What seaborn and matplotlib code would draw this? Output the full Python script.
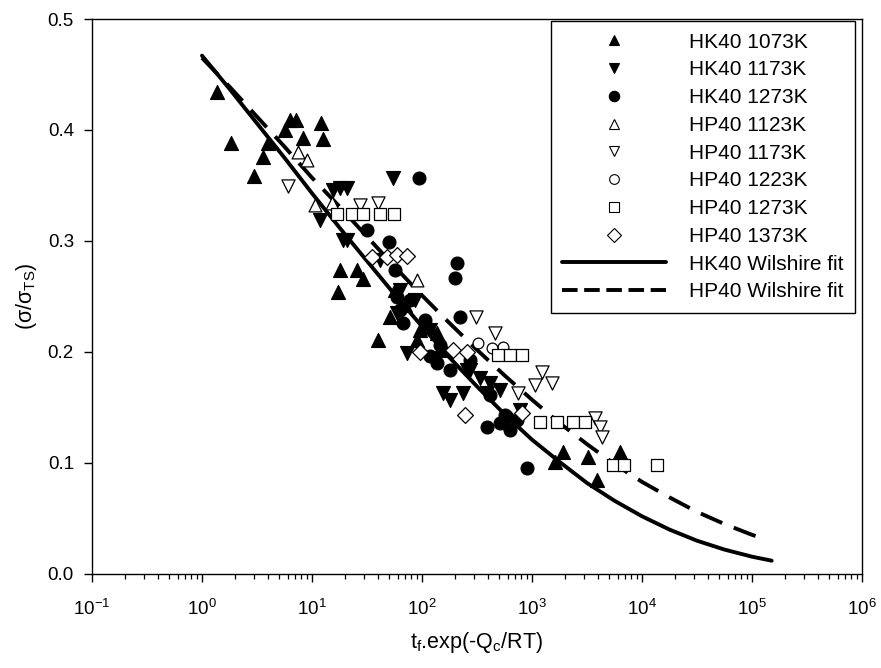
import numpy as np
import pandas as pd
import matplotlib
matplotlib.use("Agg")
import matplotlib.pyplot as plt
import seaborn as sns
from matplotlib.lines import Line2D
from matplotlib.ticker import FixedLocator, LogLocator, NullFormatter, FuncFormatter

# ---------------- data ----------------
hk1073_x = [1.37, 1.84, 2.97, 3.59, 3.98, 5.69, 6.31, 7.16, 8.28, 12.1, 12.6, 18.0, 17.2, 25.6, 29.1,
            39.8, 1620, 1910, 3230, 6310, 3900, 70, 96, 162, 57, 51, 117, 137, 90]
hk1073_y = [0.434, 0.388, 0.359, 0.376, 0.388, 0.400, 0.409, 0.409, 0.393, 0.406, 0.392, 0.274, 0.254, 0.274, 0.266,
            0.211, 0.101, 0.110, 0.105, 0.110, 0.085, 0.242, 0.220, 0.202, 0.256, 0.2315, 0.2225, 0.217, 0.211]

hk1173_x = [54.5, 15.5, 18.0, 20.8, 11.8, 19.1, 155, 180, 41.5, 63, 86, 118, 273, 512, 778, 569,
            20.8, 59, 73, 137, 257, 336, 415, 236, 389]
hk1173_y = [0.357, 0.346, 0.348, 0.348, 0.319, 0.301, 0.163, 0.157, 0.283, 0.256, 0.247, 0.220, 0.184, 0.166, 0.148, 0.134,
            0.301, 0.235, 0.199, 0.195, 0.184, 0.177, 0.172, 0.163, 0.163]

hk1273_x = [94, 31.6, 50, 208, 200, 221, 390, 902, 57, 78, 106, 146, 273, 415, 569,
            59, 63, 67, 118, 137, 180, 593, 731, 512, 631]
hk1273_y = [0.357, 0.310, 0.299, 0.280, 0.267, 0.2315, 0.132, 0.0955, 0.274, 0.247, 0.229, 0.206, 0.193, 0.161, 0.143,
            0.250, 0.238, 0.226, 0.196, 0.190, 0.184, 0.141, 0.139, 0.136, 0.130]

hp1123_x = [10.6, 15.2, 90, 7.5, 9.0]
hp1123_y = [0.332, 0.334, 0.265, 0.380, 0.373]

hp1173_x = [6.05, 27.3, 39.8, 310, 461, 1233, 1520, 1065, 746, 3740, 4150, 4330]
hp1173_y = [0.350, 0.332, 0.334, 0.2315, 0.217, 0.182, 0.172, 0.170, 0.163, 0.1405, 0.132, 0.123]

hp1223_x = [545, 433, 323]
hp1223_y = [0.2045, 0.2036, 0.208]

hp1273_x = [16.9, 23.1, 29.1, 41.5, 55.6, 491, 631, 811, 1183, 1687, 2360, 3034, 5450, 6860, 13680]
hp1273_y = [0.324, 0.324, 0.324, 0.324, 0.324, 0.197, 0.197, 0.197, 0.137, 0.137, 0.137, 0.137, 0.098, 0.098, 0.098]

hp1373_x = [35.1, 48.1, 59.3, 73.1, 95.9, 191, 257, 246, 811]
hp1373_y = [0.2856, 0.2856, 0.287, 0.2865, 0.200, 0.2018, 0.200, 0.143, 0.145]

# fitted curves, points
hk_fit_x = [1, 1.78, 3.16, 5.62, 10, 17.8, 31.6, 56.2, 100, 178, 316, 562, 1000, 1780, 3160,
            5620, 10000, 17800, 31600, 56200, 100000, 151000]
hk_fit_y = [0.467, 0.437, 0.406, 0.375, 0.343, 0.312, 0.282, 0.252, 0.223, 0.195, 0.169, 0.144, 0.121,
            0.101, 0.082, 0.066, 0.052, 0.040, 0.030, 0.022, 0.0156, 0.0120]
hp_fit_x = [1, 1.78, 3.16, 5.62, 10, 17.8, 31.6, 56.2, 100, 178, 316, 562, 1000, 1780, 3160,
            5620, 10000, 17800, 31600, 56200, 100000, 132000]
hp_fit_y = [0.465, 0.439, 0.412, 0.385, 0.357, 0.331, 0.304, 0.277, 0.251, 0.226, 0.202, 0.179, 0.157,
            0.136, 0.117, 0.099, 0.083, 0.069, 0.056, 0.045, 0.0353, 0.0313]

labels = ["HK40 1073K", "HK40 1173K", "HK40 1273K", "HP40 1123K",
          "HP40 1173K", "HP40 1223K", "HP40 1273K", "HP40 1373K"]
fit_labels = ["HK40 Wilshire fit", "HP40 Wilshire fit"]
xticks = [0.1, 1, 10, 100, 1000, 1e4, 1e5, 1e6]
xtick_labels = ["-1", "0", "1", "2", "3", "4", "5", "6"]
yticks = [0.0, 0.1, 0.2, 0.3, 0.4, 0.5]

# ---------------- style ----------------
sns.set_theme(style="white")
plt.rcParams["font.family"] = ["Liberation Sans", "DejaVu Sans"]
plt.rcParams["mathtext.fontset"] = "custom"
plt.rcParams["mathtext.rm"] = "Liberation Sans"
plt.rcParams["mathtext.it"] = "Liberation Sans:italic"
plt.rcParams["mathtext.bf"] = "Liberation Sans:bold"

fig = plt.figure(figsize=(8.81, 6.68), dpi=100)
ax = fig.add_axes([92 / 881, 1 - 574 / 668, 770 / 881, 555 / 668])

# fit lines
sns.lineplot(x=hk_fit_x, y=hk_fit_y, ax=ax, color="black", lw=2.8, sort=False,
             estimator=None, legend=False, zorder=2)
sns.lineplot(x=hp_fit_x, y=hp_fit_y, ax=ax, color="black", lw=2.8, sort=False,
             estimator=None, legend=False, zorder=2)
hp_line = ax.lines[-1]
hp_line.set_dashes([6.0, 3.2])

series = [
    (hk1073_x, hk1073_y, "^", "black", 100),
    (hk1173_x, hk1173_y, "v", "black", 100),
    (hk1273_x, hk1273_y, "o", "black", 85),
    (hp1123_x, hp1123_y, "^", "white", 85),
    (hp1173_x, hp1173_y, "v", "white", 90),
    (hp1223_x, hp1223_y, "o", "white", 60),
    (hp1273_x, hp1273_y, "s", "white", 80),
    (hp1373_x, hp1373_y, "D", "white", 65),
]
handles = []
for (xs, ys, mk, fc, s), lab in zip(series, labels):
    sns.scatterplot(x=xs, y=ys, ax=ax, marker=mk, s=s, color=fc, edgecolor="black",
                    linewidth=0.9, legend=False, zorder=3)
    handles.append(Line2D([], [], linestyle="none", marker=mk, markersize=(7.5 if fc == "black" else 7),
                          markerfacecolor=fc, markeredgecolor="black", markeredgewidth=0.8, label=lab))
handles.append(Line2D([], [], color="black", lw=2.8, label=fit_labels[0]))
dash_handle = Line2D([], [], color="black", lw=2.8, label=fit_labels[1])
dash_handle.set_dashes([4.0, 1.7])
handles.append(dash_handle)

ax.set_xscale("log")
ax.set_xlim(0.1, 1e6)
ax.set_ylim(0, 0.5)
ax.xaxis.set_major_locator(FixedLocator(xticks))
ax.xaxis.set_major_formatter(FuncFormatter(
    lambda v, p: r"$\mathregular{10^{%s}}$" % xtick_labels[int(round(np.log10(v))) + 1]))
ax.xaxis.set_minor_locator(LogLocator(base=10, subs=np.arange(2, 10), numticks=20))
ax.xaxis.set_minor_formatter(NullFormatter())
ax.set_yticks(yticks)
ax.yaxis.set_major_formatter(FuncFormatter(lambda v, p: "%.1f" % v))

for sp in ax.spines.values():
    sp.set_visible(True)
    sp.set_color("black")
    sp.set_linewidth(1.0)
ax.tick_params(axis="both", which="major", direction="out", length=6, width=1, color="black",
               labelsize=13.5, labelcolor="black")
ax.tick_params(axis="x", which="major", pad=12, bottom=True)
ax.tick_params(axis="y", which="major", pad=7, left=True)
ax.tick_params(axis="x", which="minor", direction="out", length=3.5, width=0.9, bottom=True, color="black")

ax.set_xlabel(r"t$_\mathregular{f}$.exp(-Q$_\mathregular{c}$/RT)", fontsize=15.5, labelpad=8, color="black")
ax.set_ylabel(r"$\mathregular{(σ/σ_{TS})}$", fontsize=15.5, labelpad=6, color="black")

leg = ax.legend(handles=handles, loc="upper right", bbox_to_anchor=(0.991, 0.996),
                borderaxespad=0, fontsize=15, frameon=True, fancybox=False, shadow=False,
                handlelength=5.0, handletextpad=1.1, labelspacing=0.42, borderpad=0.55,
                edgecolor="black", framealpha=1)
leg.get_frame().set_linewidth(1.0)
for t in leg.get_texts():
    t.set_color("black")

fig.savefig("out.png", dpi=100, facecolor="white")
